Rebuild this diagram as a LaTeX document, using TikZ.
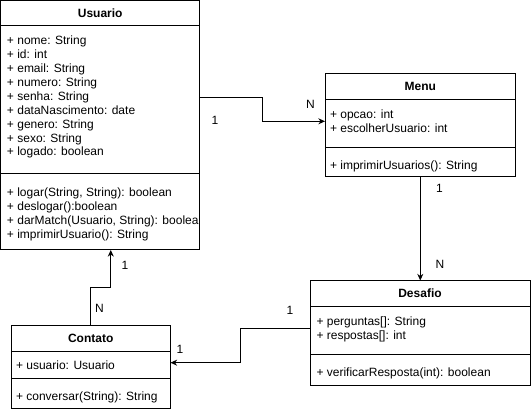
\documentclass[tikz,border=0pt]{standalone}
\usepackage{fontspec}
\setmainfont{Liberation Sans}
\usetikzlibrary{positioning,arrows.meta}

\begin{document}
\begin{tikzpicture}[x=0.75pt,y=-0.75pt,line width=0.75pt,
  font=\fontsize{9}{10.4}\selectfont,
  classbox/.style={draw,outer sep=0pt,inner sep=0pt},
  classname/.style={classbox,anchor=north west,font=\fontsize{9}{10.4}\selectfont\bfseries},
  members/.style={anchor=north west,align=left,inner sep=0pt},
  assoc/.style={-{Stealth[length=5pt,width=4.5pt]}},
  mult/.style={inner sep=0pt}]
\useasboundingbox (0,0) rectangle (531,412);

% Usuario
\node[classname,minimum width=149.6pt,minimum height=19.1pt] (usuarioT) at (0.5,0.5) {Usuario};
\node[classbox,minimum width=149.6pt,minimum height=111pt,below=0pt of usuarioT] (usuarioA) {};
\node[classbox,minimum width=149.6pt,minimum height=57pt,below=0pt of usuarioA] (usuarioM) {};
\node[members,below right=6.6pt and 4.5pt of usuarioA.north west] (usuarioAtxt) {\strut+ nome: String\\+ id: int\\+ email: String\\+ numero: String\\+ senha: String\\+ dataNascimento: date\\+ genero: String\\+ sexo: String\\+ logado: boolean};
\begin{scope}
\clip (usuarioM.south west) rectangle (usuarioM.north east);
\node[members,below right=9.2pt and 4.5pt of usuarioM.north west] (usuarioMtxt) {\strut+ logar(String, String): boolean\\+ deslogar():boolean\\+ darMatch(Usuario, String): boolean\\+ imprimirUsuario(): String};
\end{scope}

% Menu
\node[classname,minimum width=142.9pt,minimum height=19.5pt] (menuT) at (325,73.3) {Menu};
\node[classbox,minimum width=142.9pt,minimum height=36pt,below=0pt of menuT] (menuA) {};
\node[classbox,minimum width=142.9pt,minimum height=22pt,below=0pt of menuA] (menuM) {};
\node[members,below right=6.6pt and 3.4pt of menuA.north west] (menuAtxt) {\strut+ opcao: int\\+ escolherUsuario: int};
\node[members,below right=9.2pt and 3.4pt of menuM.north west] (menuMtxt) {\strut+ imprimirUsuarios(): String};

% Desafio
\node[classname,minimum width=165pt,minimum height=19.5pt] (desafioT) at (310,280.5) {Desafio};
\node[classbox,minimum width=165pt,minimum height=36pt,below=0pt of desafioT] (desafioA) {};
\node[classbox,minimum width=165pt,minimum height=22.9pt,below=0pt of desafioA] (desafioM) {};
\node[members,below right=6.6pt and 4.5pt of desafioA.north west] (desafioAtxt) {\strut+ perguntas[]: String\\+ respostas[]: int};
\node[members,below right=9.2pt and 4.5pt of desafioM.north west] (desafioMtxt) {\strut+ verificarResposta(int): boolean};

% Contato
\node[classname,minimum width=119.6pt,minimum height=19.5pt] (contatoT) at (11,325) {Contato};
\node[classbox,minimum width=119.6pt,minimum height=20.5pt,below=0pt of contatoT] (contatoA) {};
\node[classbox,minimum width=119.6pt,minimum height=22.5pt,below=0pt of contatoA] (contatoM) {};
\node[members,below right=6pt and 3.4pt of contatoA.north west] (contatoAtxt) {\strut+ usuario: Usuario};
\node[members,below right=9.2pt and 3.4pt of contatoM.north west] (contatoMtxt) {\strut+ conversar(String): String};

% associacoes
\draw[assoc] ([yshift=1.5pt]usuarioA.east) -- ++(63,0) |- ([yshift=1.5pt]menuA.west);
\draw[assoc] (menuM.south) -- (menuM.south |- desafioT.north);
\draw[assoc] ([yshift=1.5pt]desafioA.west) -- ++(-70,0) |- ([yshift=1.5pt]contatoA.east);
\draw[assoc] (contatoT.north) -- ++(0,-38) -| ([xshift=7.9pt]usuarioM.south);

\node[mult] (usuarioMenu1) at (215,120) {1};
\node[mult] (usuarioMenuN) at (310.5,104) {N};
\node[mult] (menuDesafio1) at (439.5,188) {1};
\node[mult] (menuDesafioN) at (440,264) {N};
\node[mult] (desafioContato1) at (290,310.5) {1};
\node[mult] (desafioContato2) at (180,349.5) {1};
\node[mult] (contatoUsuarioN) at (99.5,308.5) {N};
\node[mult] (contatoUsuario1) at (125,265) {1};
\end{tikzpicture}
\end{document}
